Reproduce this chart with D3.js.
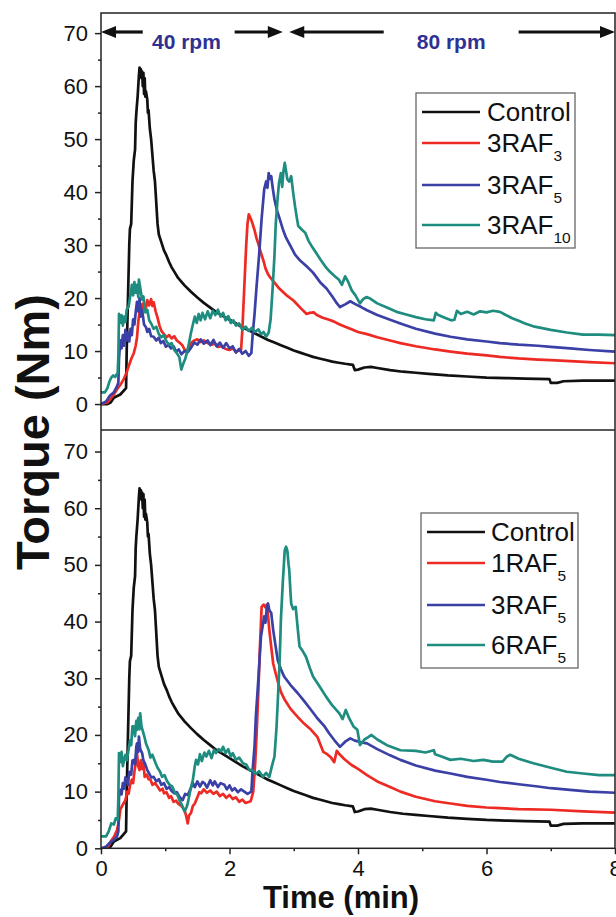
<!DOCTYPE html>
<html>
<head>
<meta charset="utf-8">
<script src="https://cdn.jsdelivr.net/npm/d3@7"></script>
<style>
html,body{margin:0;padding:0;background:#fff;}
svg{display:block;font-family:"Liberation Sans",Arial,sans-serif;}
</style>
</head>
<body>
<svg id="chart" width="616" height="917"></svg>
<script>
// ---------------- DATA ----------------
const xTicks = [0, 2, 4, 6, 8];
const xMinorTicks = [1, 3, 5, 7];
const yTicks = [0, 10, 20, 30, 40, 50, 60, 70];
const yMinorTicks = [5, 15, 25, 35, 45, 55, 65];

const xLabel = "Time (min)";
const yLabel = "Torque (Nm)";

const rpmLabels = ["40 rpm", "80 rpm"];
const rpmCenters = [1.33, 5.45];
const rpmArrowParts = [ // [tip, tail] in minutes
  [[0, 0.65], [2.83, 2.08]],
  [[2.93, 4.40], [8.0, 6.50]]
];

const controlData = [[0,0],[0.1,0],[0.15,0.3],[0.2,1.2],[0.3,1.8],[0.36,2.6],[0.39,3],[0.4,10],[0.42,20],[0.44,30],[0.45,33],[0.47,34],[0.49,42],[0.51,46],[0.53,48],[0.54,53],[0.55,55],[0.57,58],[0.59,62],[0.6,63.5],[0.61,62.5],[0.62,63.2],[0.63,61.5],[0.64,62.8],[0.65,60],[0.66,62.5],[0.67,58.5],[0.68,61.5],[0.69,58],[0.7,59],[0.72,57.5],[0.73,55],[0.74,55.5],[0.76,52],[0.78,50],[0.8,47],[0.82,44],[0.84,42],[0.86,38],[0.88,34],[0.9,32],[0.94,30.5],[0.98,29],[1.02,28],[1.06,26.8],[1.1,25.8],[1.15,24.8],[1.2,23.8],[1.25,23.1],[1.3,22.4],[1.4,21.2],[1.5,20.1],[1.6,19.1],[1.7,18.2],[1.8,17.3],[1.9,16.6],[2.0,15.9],[2.1,15.2],[2.2,14.5],[2.3,13.9],[2.4,13.3],[2.5,12.7],[2.6,12.1],[2.7,11.6],[2.8,11.1],[2.9,10.6],[3.0,10.1],[3.1,9.7],[3.2,9.3],[3.3,8.9],[3.4,8.6],[3.5,8.3],[3.6,8.0],[3.7,7.8],[3.8,7.6],[3.92,7.4],[3.95,6.4],[4.0,6.5],[4.1,6.9],[4.2,7.0],[4.3,6.8],[4.5,6.4],[4.7,6.1],[4.9,5.9],[5.1,5.7],[5.4,5.4],[5.7,5.2],[6.0,5.0],[6.3,4.9],[6.6,4.8],[6.98,4.7],[7.0,4.0],[7.1,4.0],[7.2,4.3],[7.5,4.4],[8,4.4]];

const raf3_3Data = [[0,0],[0.1,0.3],[0.15,1],[0.2,1.8],[0.25,2.8],[0.3,3.6],[0.35,4.6],[0.4,6],[0.43,7.1],[0.47,8.5],[0.51,9.6],[0.54,11],[0.56,12.5],[0.58,15.5],[0.6,17.5],[0.62,18.8],[0.64,17.5],[0.66,19],[0.7,18.2],[0.72,19.6],[0.75,18.6],[0.78,19.8],[0.8,18.5],[0.82,19.2],[0.85,17.5],[0.88,16.3],[0.91,14.8],[0.94,13.8],[0.98,13.2],[1.02,12.6],[1.06,13],[1.1,12.4],[1.14,12.8],[1.18,12],[1.22,11.6],[1.26,11.2],[1.3,10.3],[1.33,9.9],[1.36,10.5],[1.4,11.5],[1.45,12],[1.5,12.2],[1.55,11.7],[1.6,12],[1.66,11.5],[1.72,11.2],[1.78,11.4],[1.82,10.8],[1.88,10.9],[1.94,10.4],[2.0,10.2],[2.05,10.5],[2.1,9.9],[2.18,10.2],[2.2,14],[2.23,22],[2.26,30],[2.28,34],[2.3,35.8],[2.33,35],[2.36,34],[2.39,32.8],[2.42,31.3],[2.45,30.2],[2.49,28.5],[2.53,27],[2.56,25.6],[2.6,24.5],[2.64,23.8],[2.7,22.9],[2.76,22],[2.82,21.3],[2.9,20.4],[3.0,19.5],[3.1,18.2],[3.2,17],[3.25,17.2],[3.31,17.3],[3.36,16.8],[3.45,16.3],[3.55,15.9],[3.62,15.6],[3.7,15.1],[3.8,14.6],[3.9,14.1],[4.0,13.6],[4.14,13.2],[4.3,12.6],[4.5,12],[4.66,11.5],[4.9,10.9],[5.2,10.3],[5.44,9.9],[5.7,9.5],[6.0,9.2],[6.21,8.9],[6.5,8.6],[6.8,8.4],[7.0,8.3],[7.3,8.1],[7.6,7.9],[8,7.7]];

const raf3_5TopData = [[0,0],[0.08,0.5],[0.14,1.6],[0.2,2.2],[0.25,3.4],[0.27,4],[0.28,8.5],[0.3,12],[0.32,10.5],[0.34,13],[0.36,11],[0.38,14],[0.4,12],[0.42,13.5],[0.44,11.8],[0.46,14.2],[0.48,13],[0.5,16],[0.52,15],[0.54,17.3],[0.56,19.3],[0.58,17.5],[0.6,20],[0.62,16.5],[0.64,17.8],[0.67,15],[0.7,14.5],[0.72,13.6],[0.75,14.2],[0.78,12.8],[0.82,12.7],[0.86,12],[0.9,12.5],[0.93,11.5],[0.97,11.9],[1.01,10.8],[1.05,11.2],[1.09,10.5],[1.13,10.9],[1.17,9.9],[1.21,10.3],[1.25,9.4],[1.3,10],[1.35,9.8],[1.4,10.6],[1.45,11.6],[1.5,11.2],[1.55,12.2],[1.6,11.4],[1.66,12],[1.7,11.1],[1.75,12.1],[1.8,10.9],[1.85,11.6],[1.9,10.6],[1.95,11.5],[2.0,10.5],[2.05,10.9],[2.1,9.7],[2.15,10.4],[2.2,9.5],[2.25,10],[2.3,9.1],[2.34,9.6],[2.36,13],[2.39,17],[2.42,22],[2.46,28],[2.5,35],[2.54,40.5],[2.57,42],[2.59,40.8],[2.61,43.6],[2.63,42.5],[2.65,43],[2.67,41],[2.7,38.6],[2.74,36.5],[2.78,35],[2.83,33],[2.88,31.4],[2.95,29.8],[3.02,28.2],[3.09,27.2],[3.2,26],[3.3,24.8],[3.41,23],[3.51,21.8],[3.6,20.3],[3.66,19.2],[3.72,18.3],[3.8,18.8],[3.88,19.4],[3.95,18.9],[4.05,18.3],[4.14,17.7],[4.3,16.8],[4.5,15.9],[4.66,15.2],[4.9,14.2],[5.2,13.3],[5.44,12.7],[5.7,12.2],[6.0,11.8],[6.21,11.5],[6.5,11.2],[6.8,11],[7.0,10.8],[7.3,10.5],[7.6,10.2],[8,9.9]];

const raf3_10Data = [[0,2.2],[0.06,2.2],[0.1,3],[0.13,4.2],[0.16,5],[0.19,5.4],[0.22,5.1],[0.26,5.9],[0.27,9],[0.28,17],[0.3,15.3],[0.32,16.8],[0.34,14.8],[0.36,16.5],[0.38,15.5],[0.4,17.8],[0.43,18.4],[0.45,20],[0.47,21.5],[0.48,22.5],[0.5,20.5],[0.52,23],[0.54,21],[0.56,22.5],[0.58,20.2],[0.59,23.5],[0.61,22],[0.64,19.7],[0.66,20.3],[0.69,17.3],[0.72,17.8],[0.75,15.8],[0.78,15.2],[0.82,14.2],[0.86,14.6],[0.9,13.2],[0.94,12.6],[0.98,13],[1.02,11.8],[1.06,11.2],[1.1,11.5],[1.14,10.2],[1.18,9.6],[1.22,8.8],[1.25,6.5],[1.28,7.6],[1.31,8.5],[1.34,9.8],[1.37,11.5],[1.4,13.4],[1.43,15],[1.46,16.5],[1.49,15.3],[1.52,17],[1.55,15.8],[1.58,17.2],[1.62,16],[1.66,17.5],[1.7,16.2],[1.74,17.6],[1.78,16.8],[1.82,17.8],[1.86,16.5],[1.9,17.2],[1.94,15.8],[1.98,16.6],[2.02,15.3],[2.06,15.8],[2.1,14.8],[2.15,15.2],[2.2,14],[2.25,14.6],[2.3,13.8],[2.35,14.4],[2.4,13.6],[2.45,14.1],[2.49,13.2],[2.53,13.6],[2.57,12.7],[2.61,13.5],[2.64,16],[2.67,21.6],[2.7,28],[2.72,34],[2.75,39],[2.77,41.7],[2.8,43.6],[2.82,41],[2.84,44],[2.86,45.5],[2.88,44],[2.9,42.4],[2.93,42],[2.96,43],[2.99,40],[3.02,37.3],[3.05,35],[3.07,33.6],[3.12,33],[3.18,32.3],[3.23,30.8],[3.28,29.8],[3.35,28.5],[3.42,27.2],[3.49,26],[3.56,25],[3.63,24.2],[3.7,23.5],[3.75,22.5],[3.8,24.1],[3.85,23],[3.9,21.5],[3.96,20.5],[4.03,19],[4.08,19.8],[4.13,20.2],[4.19,19.9],[4.3,19],[4.45,18.2],[4.6,17.4],[4.75,16.9],[4.9,16.4],[5.05,16],[5.18,15.8],[5.21,17.2],[5.25,16.8],[5.35,16.3],[5.45,15.8],[5.5,15.9],[5.54,17.6],[5.6,17],[5.7,17.4],[5.8,16.9],[5.9,17.5],[6.0,17.3],[6.1,17.6],[6.21,17.4],[6.3,16.8],[6.4,16.2],[6.5,15.7],[6.6,15.2],[6.75,14.6],[7.0,14],[7.25,13.5],[7.5,13.1],[7.75,13.1],[8,13]];

const raf1_5Data = [[0,0],[0.1,0],[0.15,1.2],[0.2,2],[0.25,3.2],[0.28,5],[0.3,6.8],[0.33,7.5],[0.35,7.9],[0.38,8.5],[0.41,10],[0.43,9.6],[0.45,11],[0.48,12.1],[0.5,11.5],[0.52,13.5],[0.54,15],[0.56,16.8],[0.58,14.5],[0.6,13.8],[0.62,15.5],[0.64,14],[0.66,15],[0.68,12.6],[0.71,13],[0.74,12.2],[0.77,12.1],[0.8,11.2],[0.84,11.5],[0.88,10.9],[0.92,10.2],[0.96,10.5],[0.98,9.7],[1.02,9.9],[1.06,8.9],[1.09,9.2],[1.13,8.2],[1.17,8.4],[1.2,7.9],[1.25,7.5],[1.3,6.8],[1.33,5.5],[1.35,4.4],[1.37,5.8],[1.4,6.2],[1.43,7.5],[1.46,7.9],[1.5,9],[1.53,9.9],[1.56,9.7],[1.6,10.4],[1.65,9.8],[1.7,10.2],[1.75,9.6],[1.8,10],[1.85,9.2],[1.9,9.6],[1.95,8.9],[2.0,9.4],[2.05,8.7],[2.1,9],[2.15,8.2],[2.2,8.6],[2.25,8.0],[2.33,8.3],[2.37,10],[2.4,15],[2.42,19.7],[2.45,28],[2.47,34.4],[2.5,42.6],[2.53,43],[2.56,42.5],[2.58,43],[2.6,41],[2.62,38.5],[2.65,35.5],[2.68,32.6],[2.72,30.8],[2.76,29.1],[2.8,27.6],[2.86,26.2],[2.95,24.6],[3.06,23.2],[3.16,22],[3.27,20.9],[3.37,19.6],[3.46,17],[3.52,16.6],[3.58,16],[3.63,15.2],[3.67,17.2],[3.72,16.5],[3.79,15.7],[3.9,14.7],[4.0,14],[4.14,12.9],[4.3,11.8],[4.5,10.8],[4.66,10],[4.9,9.1],[5.2,8.3],[5.44,7.9],[5.7,7.5],[6.0,7.2],[6.21,7.1],[6.5,6.9],[7.0,6.8],[7.5,6.5],[8,6.3]];

const raf3_5BotData = [[0,0],[0.08,0.3],[0.13,0.9],[0.2,1.5],[0.25,2.1],[0.27,3],[0.28,9.1],[0.3,10.3],[0.32,9.5],[0.34,11.5],[0.36,10.5],[0.38,12.5],[0.4,12.1],[0.42,11.2],[0.44,13.5],[0.47,13],[0.49,15.5],[0.51,15.6],[0.53,14.8],[0.55,18],[0.56,18.5],[0.58,17],[0.59,19.7],[0.61,17.5],[0.64,16.8],[0.66,15.5],[0.69,14.8],[0.72,13.8],[0.75,13.2],[0.78,12.5],[0.82,12.6],[0.86,11.8],[0.9,12.2],[0.94,11.2],[0.98,11.5],[1.02,10.5],[1.06,10.8],[1.1,10.1],[1.14,9.7],[1.18,9.9],[1.22,9.1],[1.27,8.5],[1.31,9.6],[1.35,9.4],[1.39,10.4],[1.43,11.5],[1.46,10.8],[1.5,11.8],[1.54,10.9],[1.58,11.7],[1.61,11.5],[1.65,10.7],[1.7,12],[1.74,11.1],[1.77,11.8],[1.82,10.8],[1.86,11.5],[1.92,11.2],[1.96,10.4],[2.0,11.1],[2.04,10.2],[2.08,10.6],[2.13,9.9],[2.18,10.4],[2.23,10],[2.28,9.6],[2.34,10],[2.36,13.8],[2.39,18],[2.41,23.2],[2.45,30],[2.49,37.4],[2.52,39.5],[2.54,40.9],[2.56,39.8],[2.58,42.4],[2.6,43.2],[2.62,42],[2.65,41.5],[2.68,38.5],[2.72,35.5],[2.75,33.2],[2.8,31.6],[2.85,30.3],[2.95,28.8],[3.06,27.4],[3.16,26],[3.27,24.4],[3.37,22.9],[3.48,21.5],[3.55,20.3],[3.63,19.1],[3.72,17.9],[3.8,18.8],[3.88,19.4],[3.95,19],[4.05,18.7],[4.14,18.5],[4.3,17.5],[4.5,16.4],[4.66,15.6],[4.9,14.6],[5.2,13.7],[5.44,13.2],[5.7,12.6],[6.0,12.1],[6.21,11.7],[6.5,11.3],[6.8,10.9],[7.0,10.6],[7.3,10.3],[7.6,10],[8,9.8]];

const raf6_5Data = [[0,2.1],[0.08,2.1],[0.12,3],[0.16,4.4],[0.2,4.2],[0.23,5.3],[0.26,5],[0.27,9],[0.28,16.8],[0.3,15.2],[0.32,17],[0.34,14.5],[0.36,15.6],[0.38,16.5],[0.4,15.5],[0.43,17.4],[0.45,19],[0.47,18.2],[0.49,21.5],[0.51,21.5],[0.53,19.8],[0.55,22.5],[0.56,20.9],[0.58,23],[0.6,21],[0.61,23.8],[0.63,21.5],[0.66,20.3],[0.68,19.5],[0.7,18.5],[0.74,17.4],[0.77,16],[0.8,16.5],[0.85,15],[0.88,14.2],[0.92,13.5],[0.95,12.6],[0.99,12.9],[1.03,11.8],[1.07,11.2],[1.11,10.9],[1.15,9.8],[1.19,9.4],[1.22,8.5],[1.26,7.6],[1.3,6.5],[1.33,7.2],[1.35,7.9],[1.39,10.2],[1.43,12.1],[1.46,14.5],[1.48,15.6],[1.51,14.8],[1.54,16.6],[1.57,15.4],[1.61,16.9],[1.64,16.2],[1.68,17.2],[1.72,15.9],[1.76,17.4],[1.79,16.8],[1.83,17.5],[1.87,17.1],[1.9,17.9],[1.94,16.8],[1.98,17.5],[2.02,16.2],[2.05,16.8],[2.1,15.6],[2.15,16],[2.21,15],[2.26,14.8],[2.31,13.8],[2.36,13.8],[2.41,13.1],[2.46,13.6],[2.52,12.6],[2.57,13.3],[2.62,12.6],[2.66,14.5],[2.7,16.2],[2.73,21],[2.75,25.6],[2.78,33],[2.8,40.3],[2.83,47],[2.86,52.6],[2.88,53.2],[2.9,52.5],[2.92,50],[2.93,49.1],[2.95,45],[2.96,43.2],[2.99,42.2],[3.03,42.6],[3.06,39],[3.09,35.6],[3.14,34.8],[3.19,33.8],[3.25,31.8],[3.3,30.3],[3.4,28.6],[3.5,26.8],[3.6,25.2],[3.71,23.8],[3.76,22.8],[3.81,24.4],[3.86,23],[3.93,21.5],[3.99,20.9],[4.03,18.2],[4.1,19.2],[4.16,19.6],[4.21,20],[4.3,19.2],[4.45,18.2],[4.66,17.3],[4.9,17.2],[5.05,16.9],[5.18,17.3],[5.2,16.6],[5.3,16.2],[5.44,15.6],[5.6,15.8],[5.8,15.4],[5.95,15.6],[6.1,15.3],[6.25,15.3],[6.32,16.2],[6.37,16.5],[6.5,15.8],[6.73,15],[7.0,14.2],[7.25,13.5],[7.5,13.2],[7.75,12.9],[8,12.9]];

const topNames = ["Control", "3RAF|3", "3RAF|5", "3RAF|10"];
const bottomNames = ["Control", "1RAF|5", "3RAF|5", "6RAF|5"];
const seriesColors = ["#111111", "#ee2a24", "#3b40a6", "#1f8c80"];
const topSeries = [controlData, raf3_3Data, raf3_5TopData, raf3_10Data];
const bottomSeries = [controlData, raf1_5Data, raf3_5BotData, raf6_5Data];

// ---------------- LAYOUT ----------------
const svg = d3.select("#chart");
const font = '"Liberation Sans", Arial, sans-serif';
const L = 101, R = 615, T = 13, MID = 430, B = 848.3;

const x = d3.scaleLinear().domain([0, 8]).range([L, R]);
const yTop = d3.scaleLinear().domain([-4.9, 73.8]).range([MID, T]);
const yBot = d3.scaleLinear().domain([0, 73.8]).range([B, MID]);

const defs = svg.append("defs");
defs.append("clipPath").attr("id", "clipTop").append("rect")
  .attr("x", L).attr("y", T).attr("width", R - L).attr("height", MID - T);
defs.append("clipPath").attr("id", "clipBot").append("rect")
  .attr("x", L).attr("y", MID).attr("width", R - L).attr("height", B - MID);

function drawPanel(yScale, series, clipId) {
  const line = d3.line().x(d => x(d[0])).y(d => yScale(d[1]));
  const g = svg.append("g").attr("clip-path", `url(#${clipId})`);
  series.forEach((s, i) => {
    g.append("path").datum(s)
      .attr("fill", "none")
      .attr("stroke", seriesColors[i])
      .attr("stroke-width", 2.7)
      .attr("stroke-linejoin", "round")
      .attr("d", line);
  });
}

function yAxes(yScale) {
  const gMaj = svg.append("g").attr("transform", `translate(${L},0)`)
    .call(d3.axisLeft(yScale).tickValues(yTicks).tickSize(6).tickPadding(7).tickFormat(d3.format("d")));
  gMaj.select(".domain").remove();
  gMaj.selectAll("line").attr("stroke", "#222").attr("stroke-width", 1.5);
  gMaj.selectAll("text").attr("font-size", 22).attr("font-family", font).attr("fill", "#111");
  const gMin = svg.append("g").attr("transform", `translate(${L},0)`)
    .call(d3.axisLeft(yScale).tickValues(yMinorTicks).tickSize(3).tickFormat(""));
  gMin.select(".domain").remove();
  gMin.selectAll("line").attr("stroke", "#222").attr("stroke-width", 1.5);
}

drawPanel(yTop, topSeries, "clipTop");
drawPanel(yBot, bottomSeries, "clipBot");
yAxes(yTop);
yAxes(yBot);

// x axis
const gx = svg.append("g").attr("transform", `translate(0,${B})`)
  .call(d3.axisBottom(x).tickValues(xTicks).tickSize(6).tickPadding(6).tickFormat(d3.format("d")));
gx.select(".domain").remove();
gx.selectAll("line").attr("stroke", "#222").attr("stroke-width", 1.5);
gx.selectAll("text").attr("font-size", 22).attr("font-family", font).attr("fill", "#111");
const gxm = svg.append("g").attr("transform", `translate(0,${B})`)
  .call(d3.axisBottom(x).tickValues(xMinorTicks).tickSize(3).tickFormat(""));
gxm.select(".domain").remove();
gxm.selectAll("line").attr("stroke", "#222").attr("stroke-width", 1.5);

// frame
svg.append("rect").attr("x", L).attr("y", T).attr("width", R - L).attr("height", B - T)
  .attr("fill", "none").attr("stroke", "#222").attr("stroke-width", 1.5);
svg.append("line").attr("x1", L).attr("x2", R).attr("y1", MID).attr("y2", MID)
  .attr("stroke", "#222").attr("stroke-width", 1.5);

// axis titles
svg.append("text").attr("x", 341).attr("y", 908).attr("text-anchor", "middle")
  .attr("font-family", font).attr("font-weight", "bold").attr("font-size", 31).attr("fill", "#111")
  .text(xLabel);
svg.append("text").attr("transform", "translate(49,432) rotate(-90)").attr("text-anchor", "middle")
  .attr("font-family", font).attr("font-weight", "bold").attr("font-size", 47).attr("fill", "#111")
  .text(yLabel);

// rpm annotations
const arrowY = 32;
function arrow(tip, tail) {
  const xt = x(tip), xl = x(tail);
  const dir = xl > xt ? 1 : -1;
  const headLen = 15, headHalf = 6;
  svg.append("line").attr("x1", xl).attr("x2", xt + dir * (headLen - 2)).attr("y1", arrowY).attr("y2", arrowY)
    .attr("stroke", "#111").attr("stroke-width", 3.2);
  svg.append("path")
    .attr("d", `M${xt},${arrowY} L${xt + dir * headLen},${arrowY - headHalf} L${xt + dir * headLen},${arrowY + headHalf} Z`)
    .attr("fill", "#111");
}
rpmArrowParts.forEach(parts => parts.forEach(p => arrow(p[0], p[1])));
rpmLabels.forEach((lab, i) => {
  svg.append("text").attr("x", x(rpmCenters[i])).attr("y", 49).attr("text-anchor", "middle")
    .attr("font-family", font).attr("font-weight", "bold").attr("font-size", 21).attr("fill", "#2e3192")
    .text(lab);
});

// legends
function legend(names, box, rowsY, lineX0, lineX1, textX) {
  svg.append("rect").attr("x", box[0]).attr("y", box[1]).attr("width", box[2]).attr("height", box[3])
    .attr("fill", "#fff").attr("stroke", "#666").attr("stroke-width", 1.3);
  names.forEach((n, i) => {
    const yy = rowsY[i];
    svg.append("line").attr("x1", lineX0).attr("x2", lineX1).attr("y1", yy).attr("y2", yy)
      .attr("stroke", seriesColors[i]).attr("stroke-width", 2.7);
    const parts = n.split("|");
    const t = svg.append("text").attr("x", textX).attr("y", yy + 9)
      .attr("font-family", font).attr("font-size", 26).attr("fill", "#111");
    t.append("tspan").text(parts[0]);
    if (parts[1]) t.append("tspan").attr("font-size", 15.5).attr("dy", 9).text(parts[1]);
  });
}
legend(topNames, [416, 93, 159, 155], [112, 143, 185, 225], 422, 480, 487);
legend(bottomNames, [421, 513, 157, 155], [532, 563, 605, 645], 427, 485, 491);
</script>
</body>
</html>
